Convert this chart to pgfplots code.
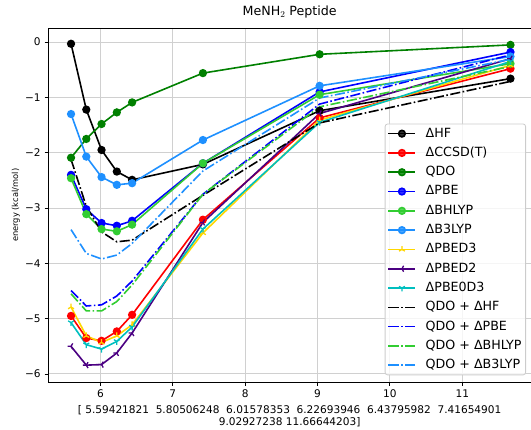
\documentclass[border=0pt]{standalone}
\usepackage{pgfplots}
\usepackage{pgfplotstable}
\pgfplotsset{compat=1.18}
\usepackage{fontspec}
\setmainfont{DejaVu Sans}

\definecolor{mgreen}{HTML}{008000}
\definecolor{mblue}{HTML}{0000FF}
\definecolor{mlime}{HTML}{32CD32}
\definecolor{mdodger}{HTML}{1E90FF}
\definecolor{mgold}{HTML}{FFD700}
\definecolor{mindigo}{HTML}{4B0082}
\definecolor{mcyan}{HTML}{00BFBF}
\definecolor{mred}{HTML}{FF0000}
\definecolor{mgrid}{HTML}{D0D0D0}

\pgfdeclareplotmark{tridown}{%
 \pgfpathmoveto{\pgfpointorigin}\pgfpathlineto{\pgfpointpolar{270}{\pgfplotmarksize}}%
 \pgfpathmoveto{\pgfpointorigin}\pgfpathlineto{\pgfpointpolar{30}{\pgfplotmarksize}}%
 \pgfpathmoveto{\pgfpointorigin}\pgfpathlineto{\pgfpointpolar{150}{\pgfplotmarksize}}%
 \pgfusepathqstroke}
\pgfdeclareplotmark{triup}{%
 \pgfpathmoveto{\pgfpointorigin}\pgfpathlineto{\pgfpointpolar{90}{\pgfplotmarksize}}%
 \pgfpathmoveto{\pgfpointorigin}\pgfpathlineto{\pgfpointpolar{210}{\pgfplotmarksize}}%
 \pgfpathmoveto{\pgfpointorigin}\pgfpathlineto{\pgfpointpolar{330}{\pgfplotmarksize}}%
 \pgfusepathqstroke}
\pgfdeclareplotmark{trileft}{%
 \pgfpathmoveto{\pgfpointorigin}\pgfpathlineto{\pgfpointpolar{180}{\pgfplotmarksize}}%
 \pgfpathmoveto{\pgfpointorigin}\pgfpathlineto{\pgfpointpolar{60}{\pgfplotmarksize}}%
 \pgfpathmoveto{\pgfpointorigin}\pgfpathlineto{\pgfpointpolar{300}{\pgfplotmarksize}}%
 \pgfusepathqstroke}

\pgfplotstableread{
x            hf     ccsd   qdo    pbe    bhlyp  b3lyp  pbed3  pbed2  pbeod3 qhf    qpbe   qbhlyp qb3lyp
5.59421821  -0.03  -4.95  -2.09  -2.40  -2.46  -1.30  -4.79  -5.50  -5.07  -2.12  -4.49  -4.55  -3.39
5.80506248  -1.22  -5.35  -1.75  -3.02  -3.11  -2.07  -5.31  -5.84  -5.47  -2.97  -4.77  -4.86  -3.82
6.01578353  -1.95  -5.40  -1.48  -3.27  -3.38  -2.44  -5.43  -5.83  -5.55  -3.43  -4.75  -4.86  -3.92
6.22693946  -2.34  -5.23  -1.27  -3.32  -3.42  -2.58  -5.31  -5.62  -5.41  -3.61  -4.59  -4.69  -3.85
6.43795982  -2.49  -4.93  -1.09  -3.23  -3.30  -2.55  -5.11  -5.26  -5.15  -3.58  -4.32  -4.39  -3.64
7.41654901  -2.21  -3.21  -0.56  -2.19  -2.19  -1.77  -3.45  -3.26  -3.38  -2.77  -2.75  -2.75  -2.33
9.02927238  -1.24  -1.37  -0.22  -0.90  -0.95  -0.79  -1.41  -1.29  -1.45  -1.46  -1.12  -1.17  -1.01
11.66644203 -0.66  -0.48  -0.05  -0.18  -0.39  -0.26  -0.42  -0.30  -0.35  -0.71  -0.23  -0.44  -0.31
}\datatab

\tikzset{mdashdot/.style={dash pattern=on 10.1pt off 2.5pt on 1.6pt off 2.5pt}}

\begin{document}
\begin{tikzpicture}
\useasboundingbox (-48.3pt,-47.7pt) rectangle (482.7pt,382.3pt);
\begin{axis}[
  at={(0pt,0pt)}, anchor=south west,
  scale only axis, width=482.7pt, height=354pt,
  xmin=5.28, xmax=11.95, ymin=-6.15, ymax=0.25,
  xtick={6,7,8,9,10,11},
  ytick={-6,-5,-4,-3,-2,-1,0},
  yticklabels={−6,−5,−4,−3,−2,−1,0},
  /pgf/number format/assume math mode=true,
  grid=major, grid style={mgrid, line width=1pt},
  axis line style={line width=0.85pt},
  tick align=outside, tick pos=left, major tick length=3.7pt,
  tick style={line width=0.85pt, black},
  ticklabel style={font=\fontsize{10.55}{12}\selectfont},
  xticklabel style={anchor=north, inner sep=0pt, text height=7.7pt, text depth=0pt, yshift=-3.7pt},
  yticklabel style={anchor=east, inner sep=0pt, xshift=-3.7pt},
  title={MeNH$_2$ Peptide},
  title style={at={(axis description cs:0.5,1)}, anchor=base, yshift=6.3pt, inner sep=0pt, font=\fontsize{12.65}{15}\selectfont},
  xlabel={[ 5.59421821\ \ 5.80506248\ \ 6.01578353\ \ 6.22693946\ \ 6.43795982\ \ 7.41654901\\9.02927238 11.66644203]},
  xlabel style={at={(axis description cs:0.5,0)}, anchor=north, yshift=-22.6pt, inner sep=0pt, align=center, font=\fontsize{10.55}{12.66}\selectfont},
  ylabel={energy (kcal/mol)},
  ylabel style={at={(axis description cs:-0.0673,0.5)}, anchor=center, inner sep=0pt, font=\fontsize{8.3}{10}\selectfont},
  every axis plot/.append style={line width=1.6pt},
  legend cell align=left,
  legend image code/.code={\draw[mark repeat=2,mark phase=2,#1] plot coordinates {(0pt,0pt)(13.5pt,0pt)(27pt,0pt)};},
  legend style={at={(rel axis cs:1,0)}, anchor=south east, xshift=-5pt, yshift=7pt,
    draw=black!20, line width=0.8pt, rounded corners=2.5pt, fill=white, fill opacity=0.8, text opacity=1,
    font=\fontsize{12.65}{15}\selectfont, inner xsep=2.5pt, inner ysep=0pt,
    nodes={inner xsep=1.5pt, inner ysep=3.6pt, text height=9.5pt, text depth=2.6pt},
    /tikz/every odd column/.append style={column sep=8pt}},
]
\addplot[black, mark=*, mark size=3.3pt] table[x=x,y=hf] {\datatab};
\addlegendentry{ΔHF}
\addplot[mred, mark=*, mark size=3.3pt] table[x=x,y=ccsd] {\datatab};
\addlegendentry{ΔCCSD(T)}
\addplot[mgreen, mark=*, mark size=3.3pt] table[x=x,y=qdo] {\datatab};
\addlegendentry{QDO}
\addplot[mblue, mark=*, mark size=3.3pt] table[x=x,y=pbe] {\datatab};
\addlegendentry{ΔPBE}
\addplot[mlime, mark=*, mark size=3.3pt] table[x=x,y=bhlyp] {\datatab};
\addlegendentry{ΔBHLYP}
\addplot[mdodger, mark=*, mark size=3.3pt] table[x=x,y=b3lyp] {\datatab};
\addlegendentry{ΔB3LYP}
\addplot[mgold, mark=triup, mark size=3.4pt, mark options={line width=1.3pt}] table[x=x,y=pbed3] {\datatab};
\addlegendentry{ΔPBED3}
\addplot[mindigo, mark=trileft, mark size=3.4pt, mark options={line width=1.3pt}] table[x=x,y=pbed2] {\datatab};
\addlegendentry{ΔPBED2}
\addplot[mcyan, mark=tridown, mark size=3.4pt, mark options={line width=1.3pt}] table[x=x,y=pbeod3] {\datatab};
\addlegendentry{ΔPBE0D3}
\addplot[black, mdashdot] table[x=x,y=qhf] {\datatab};
\addlegendentry{QDO + ΔHF}
\addplot[mblue, mdashdot] table[x=x,y=qpbe] {\datatab};
\addlegendentry{QDO + ΔPBE}
\addplot[mlime, mdashdot] table[x=x,y=qbhlyp] {\datatab};
\addlegendentry{QDO + ΔBHLYP}
\addplot[mdodger, mdashdot] table[x=x,y=qb3lyp] {\datatab};
\addlegendentry{QDO + ΔB3LYP}
\end{axis}
\end{tikzpicture}
\end{document}
